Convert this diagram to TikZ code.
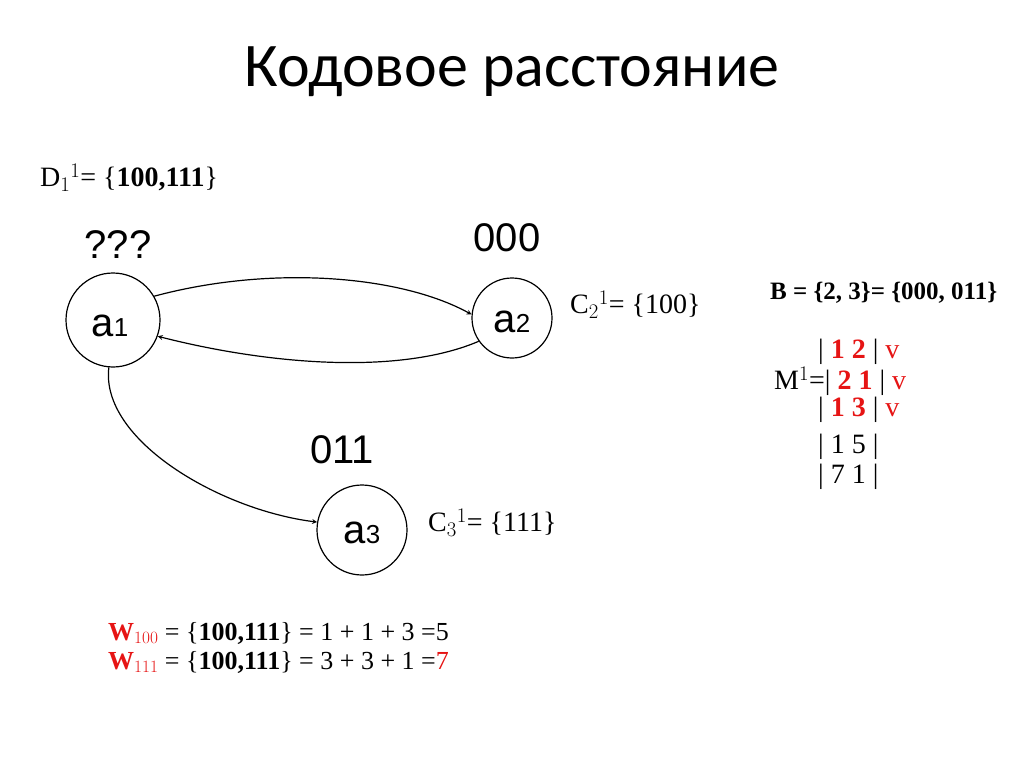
\documentclass[tikz,border=0pt]{standalone}
\usepackage{fontspec}
\setmainfont{Liberation Serif}
\newfontfamily\arialf{Liberation Sans}
\newfontfamily\calf{Carlito}
\definecolor{myred}{RGB}{230,20,20}
\begin{document}
\begin{tikzpicture}[x=1pt,y=-1pt,
  st/.style={circle,draw,line width=1.2pt,inner sep=0pt},
  lbl/.style={font=\arialf\fontsize{40}{42}\selectfont},
  tt/.style={font=\fontsize{28}{30}\selectfont,inner sep=0pt},
  arr/.style={->,>=stealth,line width=1.2pt}]
\useasboundingbox (0,0) rectangle (1024,767);
\node[font=\calf\fontsize{62}{66}\selectfont] (title) at (512,72) {Кодовое расстояние};
\node[tt,anchor=west] (d) at (40,178) {D$_1$$^1$= \{\textbf{100,111}\}};
\node[st,minimum size=94pt] (a1) at (113,320) {};
\node[lbl] at (110,326) {a\fontsize{26}{28}\selectfont1};
\node[st,minimum size=80pt] (a2) at (512,318) {};
\node[lbl] at (512,322) {a\fontsize{26}{28}\selectfont2};
\node[st,minimum size=90pt] (a3) at (362,530) {};
\node[lbl] at (362,533) {a\fontsize{26}{28}\selectfont3};
\node[lbl] (q) at (118,245) {???};
\node[lbl] (z) at (507,238) {000};
\node[lbl] (o) at (342,450) {011};
\draw[arr] (a1.30) .. controls (270,265) and (400,275) .. (a2.175);
\draw[arr] (a2.215) .. controls (400,375) and (270,365) .. (a1.-20);
\draw[arr] (a1.265) .. controls (100,440) and (220,510) .. (a3.170);
\node[tt,anchor=west] (c2) at (570,305) {C$_2$$^1$= \{100\}};
\node[tt,anchor=west] (c3) at (428,523) {C$_3$$^1$= \{111\}};
\node[font=\bfseries\fontsize{25}{28}\selectfont,anchor=west,inner sep=0pt] (b) at (770,293) {B = \{2, 3\}= \{000, 011\}};
\begin{scope}[every node/.style={tt,anchor=west}]
\node (m1) at (818,352) {| \textcolor{myred}{\textbf{1 2}} | \textcolor{myred}{v}};
\node (m2) at (774,381) {M$^1$=| \textcolor{myred}{\textbf{2 1}} | \textcolor{myred}{v}};
\node (m3) at (818,410) {| \textcolor{myred}{\textbf{1 3}} | \textcolor{myred}{v}};
\node (m4) at (818,447) {| 1 5 |};
\node (m5) at (818,477) {| 7 1 |};
\end{scope}
\begin{scope}[every node/.style={font=\fontsize{26}{28}\selectfont,inner sep=0pt,anchor=west}]
\node (w1) at (108,633) {\textcolor{myred}{\textbf{W}$_{100}$} = \{\textbf{100,111}\} = 1 + 1 + 3 =5};
\node (w2) at (108,662) {\textcolor{myred}{\textbf{W}$_{111}$} = \{\textbf{100,111}\} =\ 3 + 3 + 1 =\textcolor{myred}{7}};
\end{scope}
\end{tikzpicture}
\end{document}
